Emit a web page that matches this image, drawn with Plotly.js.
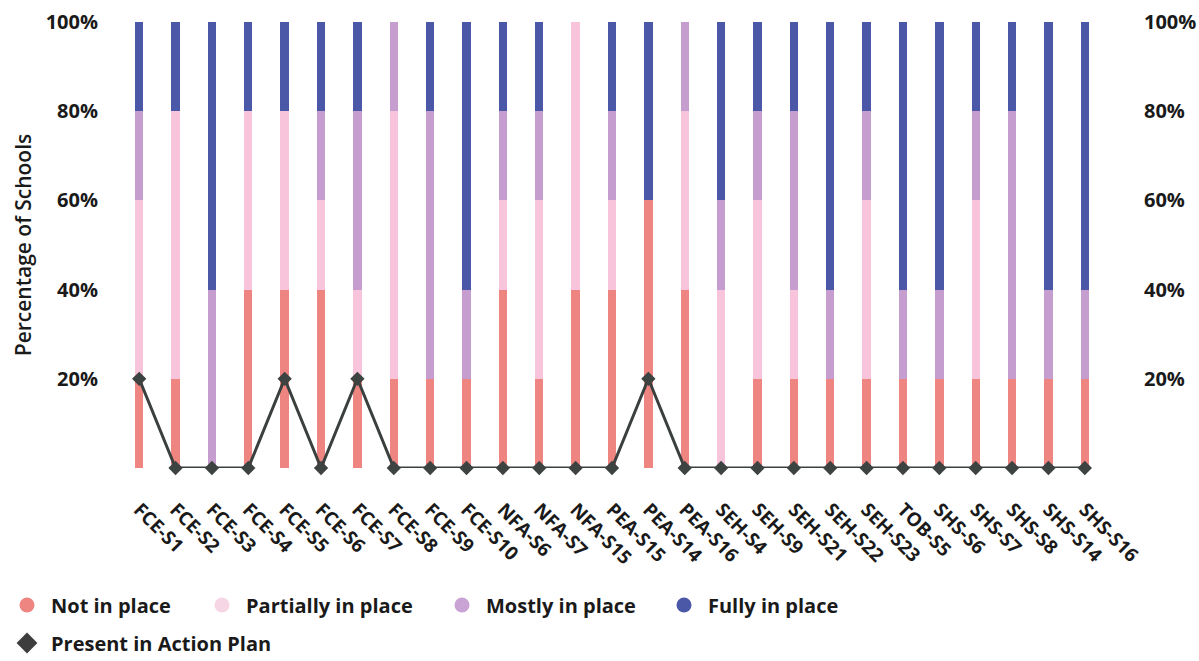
<!DOCTYPE html>
<html>
<head>
<meta charset="utf-8">
<script src="https://cdn.plot.ly/plotly-3.0.1.min.js"></script>
<style>
  html, body { margin: 0; padding: 0; background: #ffffff; }
  #chart { width: 1199px; height: 661px; }
</style>
</head>
<body>
<div id="chart"></div>
<script>
// ---- data (percentage of schools) ----
const categories = ["FCE-S1","FCE-S2","FCE-S3","FCE-S4","FCE-S5","FCE-S6","FCE-S7","FCE-S8","FCE-S9","FCE-S10",
  "NFA-S6","NFA-S7","NFA-S15","PEA-S15","PEA-S14","PEA-S16","SEH-S4","SEH-S9","SEH-S21","SEH-S22","SEH-S23",
  "TOB-S5","SHS-S6","SHS-S7","SHS-S8","SHS-S14","SHS-S16"];
const notInPlace       = [20,20, 0,40,40,40,20,20,20,20,40,20,40,40,60,40, 0,20,20,20,20,20,20,20,20,20,20];
const partiallyInPlace = [40,60, 0,40,40,20,20,60, 0, 0,20,40,60,20, 0,40,40,40,20, 0,40, 0, 0,40, 0, 0, 0];
const mostlyInPlace    = [20, 0,40, 0, 0,20,40,20,60,20,20,20, 0,20, 0,20,20,20,40,20,20,20,20,20,60,20,20];
const fullyInPlace     = [20,20,60,20,20,20,20, 0,20,60,20,20, 0,20,40, 0,40,20,20,60,20,60,60,20,20,60,60];
const actionPlan       = [20, 0, 0, 0,20, 0,20, 0, 0, 0, 0, 0, 0, 0,20, 0, 0, 0, 0, 0, 0, 0, 0, 0, 0, 0, 0];
const seriesNames = ["Not in place","Partially in place","Mostly in place","Fully in place"];
const lineName = "Present in Action Plan";
const yTickVals = [20,40,60,80,100];
const yTickText = ["20%","40%","60%","80%","100%"];

// ---- styles ----
const colors = ["#ef8580","#f7c4dc","#c59dcf","#4a58a7"];
const legendColors = ["#ef8580","#f6d6e4","#c9a3d3","#4a58a7"];
const FONT = "Open Sans, Noto Sans, sans-serif";
const BAR_W = 0.23;
const seriesData = [notInPlace, partiallyInPlace, mostlyInPlace, fullyInPlace];

const traces = [];
seriesData.forEach((vals, i) => {
  traces.push({
    type: "bar", x: categories, y: vals, name: seriesNames[i],
    marker: {color: colors[i], line: {width: 0}},
    width: BAR_W, showlegend: false, hoverinfo: "x+y+name"
  });
});
traces.push({
  type: "scatter", mode: "lines+markers", x: categories, y: actionPlan, name: lineName,
  yaxis: "y2", cliponaxis: false,
  line: {color: "#3a403e", width: 3},
  marker: {symbol: "diamond", size: 11, color: "#3d4341"},
  showlegend: false
});
// legend entries (circle markers as in the reference)
const legendIds = ["legend","legend2","legend3","legend4"];
seriesData.forEach((vals, i) => {
  traces.push({
    type: "scatter", mode: "markers", x: [null], y: [null], name: seriesNames[i],
    marker: {symbol: "circle", size: 15, color: legendColors[i]},
    legend: legendIds[i], showlegend: true, hoverinfo: "skip"
  });
});
traces.push({
  type: "scatter", mode: "markers", x: [null], y: [null], name: lineName,
  marker: {symbol: "diamond", size: 17, color: "#3d3d3d"},
  legend: "legend5", showlegend: true, hoverinfo: "skip"
});

function legendAt(px, py) {
  return {
    x: px / 1199, y: 1 - py / 661, xref: "container", yref: "container",
    xanchor: "left", yanchor: "middle", orientation: "h",
    font: {family: FONT, size: 20, color: "#1a1a1a", weight: 700},
    bgcolor: "rgba(0,0,0,0)", itemwidth: 38, itemclick: false, itemdoubleclick: false
  };
}

const layout = {
  width: 1199, height: 661,
  margin: {l: 121, r: 96, t: 22, b: 193, autoexpand: false},
  paper_bgcolor: "#ffffff", plot_bgcolor: "#ffffff",
  barmode: "stack", bargap: 0,
  font: {family: FONT, color: "#1a1a1a"},
  xaxis: {
    type: "category", range: [-0.5, categories.length - 0.5],
    tickangle: 45, showgrid: false, zeroline: false, showline: false,
    automargin: false,
    ticks: "outside", ticklen: 22, tickcolor: "rgba(0,0,0,0)",
    tickfont: {family: FONT, size: 19, weight: 700, color: "#1a1a1a"}
  },
  yaxis: {
    range: [0, 100], tickvals: yTickVals, ticktext: yTickText,
    showgrid: false, zeroline: false, showline: false, automargin: false,
    ticks: "outside", ticklen: 18, tickcolor: "rgba(0,0,0,0)",
    tickfont: {family: FONT, size: 20, weight: 700, color: "#1a1a1a"},
    title: {text: "Percentage of Schools", standoff: 8,
            font: {family: FONT, size: 21, color: "#1a1a1a", weight: 600}}
  },
  yaxis2: {
    range: [0, 100], overlaying: "y", side: "right", anchor: "x",
    tickvals: yTickVals, ticktext: yTickText,
    showgrid: false, zeroline: false, showline: false, automargin: false,
    ticks: "outside", ticklen: 36, tickcolor: "rgba(0,0,0,0)",
    tickfont: {family: FONT, size: 20, weight: 700, color: "#1a1a1a"}
  },
  legend: legendAt(3, 605),
  legend2: legendAt(198, 605),
  legend3: legendAt(438, 605),
  legend4: legendAt(660, 605),
  legend5: legendAt(3, 643),
  showlegend: true
};

Plotly.newPlot("chart", traces, layout, {displayModeBar: false, staticPlot: true});
</script>
</body>
</html>
